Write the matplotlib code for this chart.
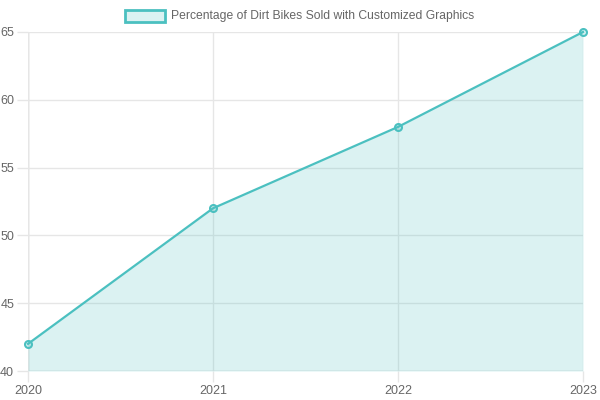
import matplotlib.pyplot as plt
from matplotlib.patches import Rectangle

years = ["2020", "2021", "2022", "2023"]
percent = [42, 52, 58, 65]
label = "Percentage of Dirt Bikes Sold with Customized Graphics"

plt.rcParams['font.family'] = ['Liberation Sans', 'DejaVu Sans']

line_color = (75/255, 192/255, 192/255)
fill_color = (75/255, 192/255, 192/255, 0.2)
grid_color = '#e6e6e6'
axis_color = '#c8c8c8'
text_color = '#666666'

fig = plt.figure(figsize=(6, 4), dpi=100)
ax = fig.add_axes([28/600, 1 - 371/400, (583 - 28)/600, (371 - 32)/400])

x = list(range(len(years)))
ax.fill_between(x, percent, 40, color=fill_color, linewidth=0)
ax.plot(x, percent, color=line_color, linewidth=1.6, marker='o', markersize=5,
        markerfacecolor=fill_color, markeredgecolor=line_color, markeredgewidth=1.5,
        clip_on=False, zorder=3)

ax.set_xlim(0, len(years) - 1)
ax.set_ylim(40, 65)
ax.set_xticks(x)
ax.set_xticklabels(years)
ax.set_yticks(range(40, 66, 5))

ax.grid(True, color=grid_color, linewidth=1, alpha=1)
ax.set_axisbelow(True)
for s in ax.spines.values():
    s.set_visible(False)
ax.axvline(0, color=axis_color, linewidth=1, zorder=0.5)
ax.axhline(40, color=axis_color, linewidth=1, zorder=0.5)

ax.tick_params(axis='both', color=grid_color, length=8, width=1,
               labelcolor=text_color, labelsize=9, pad=2)

# legend drawn like a Chart.js legend
fig.patches.append(Rectangle((125/600, 1 - 22/400), 40/600, 12/400,
                             transform=fig.transFigure, facecolor=fill_color,
                             edgecolor=line_color, linewidth=2))
fig.text(171/600, 1 - 16/400, label, ha='left', va='center',
         color=text_color, fontsize=8.7)

fig.savefig("out.png", dpi=100)
